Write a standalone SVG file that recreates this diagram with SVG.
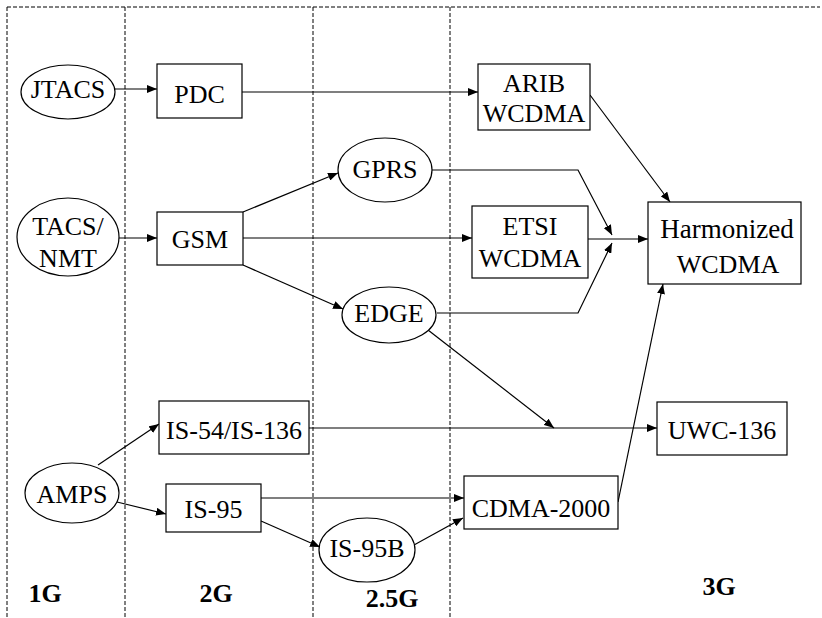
<svg xmlns="http://www.w3.org/2000/svg" width="822" height="618" viewBox="0 0 822 618">
<defs>
<style>
.n{fill:#fff;stroke:#000;stroke-width:1.2}
.t{font-family:'Liberation Serif','Times New Roman','DejaVu Serif',serif;font-size:26px;fill:#000;text-anchor:middle}
.g{font-family:'Liberation Serif','Times New Roman','DejaVu Serif',serif;font-size:26px;font-weight:bold;fill:#000;text-anchor:middle}
.d{fill:none;stroke:#000;stroke-width:1;stroke-dasharray:4,2}
.c{fill:none;stroke:#000;stroke-width:1.2}
</style>
<marker id="ah" viewBox="0 0 10 8" refX="10" refY="4" markerWidth="10" markerHeight="8" markerUnits="userSpaceOnUse" orient="auto">
<path d="M0,0 L10,4 L0,8 Z" fill="#000"/>
</marker>
</defs>
<rect width="822" height="618" fill="#fff"/>
<g id="grid">
<line class="d" x1="7" y1="7" x2="820" y2="7"/>
<line class="d" x1="7" y1="7" x2="7" y2="618"/>
<line class="d" x1="125" y1="7" x2="125" y2="618"/>
<line class="d" x1="313" y1="7" x2="313" y2="618"/>
<line class="d" x1="450" y1="7" x2="450" y2="618"/>
</g>
<g id="connectors">
<line class="c" x1="115" y1="89" x2="157" y2="89" marker-end="url(#ah)"/>
<line class="c" x1="242" y1="92" x2="478" y2="92" marker-end="url(#ah)"/>
<line class="c" x1="119" y1="238" x2="157" y2="238" marker-end="url(#ah)"/>
<line class="c" x1="243" y1="212" x2="338" y2="173" marker-end="url(#ah)"/>
<line class="c" x1="243" y1="238" x2="472" y2="238" marker-end="url(#ah)"/>
<line class="c" x1="243" y1="265" x2="343" y2="309" marker-end="url(#ah)"/>
<polyline class="c" points="432,170 578,170 612,235" marker-end="url(#ah)"/>
<line class="c" x1="588" y1="239" x2="648" y2="239" marker-end="url(#ah)"/>
<polyline class="c" points="437,313 578,313 612,243" marker-end="url(#ah)"/>
<line class="c" x1="590" y1="95" x2="670" y2="202" marker-end="url(#ah)"/>
<line class="c" x1="618" y1="502" x2="663" y2="284" marker-end="url(#ah)"/>
<line class="c" x1="309" y1="428" x2="657" y2="428" marker-end="url(#ah)"/>
<line class="c" x1="428" y1="330" x2="554" y2="428" marker-end="url(#ah)"/>
<line class="c" x1="98" y1="465" x2="159" y2="424" marker-end="url(#ah)"/>
<line class="c" x1="117" y1="502" x2="166" y2="514" marker-end="url(#ah)"/>
<line class="c" x1="261" y1="498" x2="464" y2="498" marker-end="url(#ah)"/>
<line class="c" x1="261" y1="521" x2="320" y2="547" marker-end="url(#ah)"/>
<line class="c" x1="414" y1="545" x2="463" y2="518" marker-end="url(#ah)"/>
</g>
<g id="jtacs"><ellipse class="n" cx="68" cy="92" rx="47" ry="27"/><text class="t" x="68" y="98">JTACS</text></g>
<g id="pdc"><rect class="n" x="157" y="64" width="85" height="54"/><text class="t" x="199.5" y="103">PDC</text></g>
<g id="tacs"><ellipse class="n" cx="68" cy="237" rx="51" ry="39"/><text class="t" x="68" y="235">TACS/</text><text class="t" x="68" y="267">NMT</text></g>
<g id="gsm"><rect class="n" x="157" y="212" width="86" height="53"/><text class="t" x="200" y="248">GSM</text></g>
<g id="gprs"><ellipse class="n" cx="385" cy="170" rx="47" ry="32"/><text class="t" x="385" y="178">GPRS</text></g>
<g id="edge"><ellipse class="n" cx="389" cy="315" rx="47" ry="28"/><text class="t" x="389" y="322">EDGE</text></g>
<g id="arib"><rect class="n" x="478" y="64" width="112" height="66"/><text class="t" x="534" y="92">ARIB</text><text class="t" x="534" y="122">WCDMA</text></g>
<g id="etsi"><rect class="n" x="472" y="206" width="116" height="72"/><text class="t" x="530" y="235">ETSI</text><text class="t" x="530" y="267">WCDMA</text></g>
<g id="harmonized"><rect class="n" x="648" y="202" width="153" height="82"/><text class="t" x="727" y="238" style="font-size:27px">Harmonized</text><text class="t" x="728" y="273">WCDMA</text></g>
<g id="is54"><rect class="n" x="159" y="401" width="150" height="53"/><text class="t" x="234" y="439">IS-54/IS-136</text></g>
<g id="uwc"><rect class="n" x="657" y="402" width="130" height="53"/><text class="t" x="722" y="439">UWC-136</text></g>
<g id="amps"><ellipse class="n" cx="72" cy="493" rx="47" ry="30"/><text class="t" x="72" y="503">AMPS</text></g>
<g id="is95"><rect class="n" x="166" y="484" width="95" height="48"/><text class="t" x="213.5" y="518">IS-95</text></g>
<g id="is95b"><ellipse class="n" cx="367" cy="550" rx="48" ry="32"/><text class="t" x="367" y="557">IS-95B</text></g>
<g id="cdma"><rect class="n" x="464" y="476" width="154" height="53"/><text class="t" x="541" y="517">CDMA-2000</text></g>
<g id="labels">
<text class="g" x="45" y="602">1G</text>
<text class="g" x="216" y="602">2G</text>
<text class="g" x="392" y="607">2.5G</text>
<text class="g" x="719" y="595">3G</text>
</g>
</svg>
